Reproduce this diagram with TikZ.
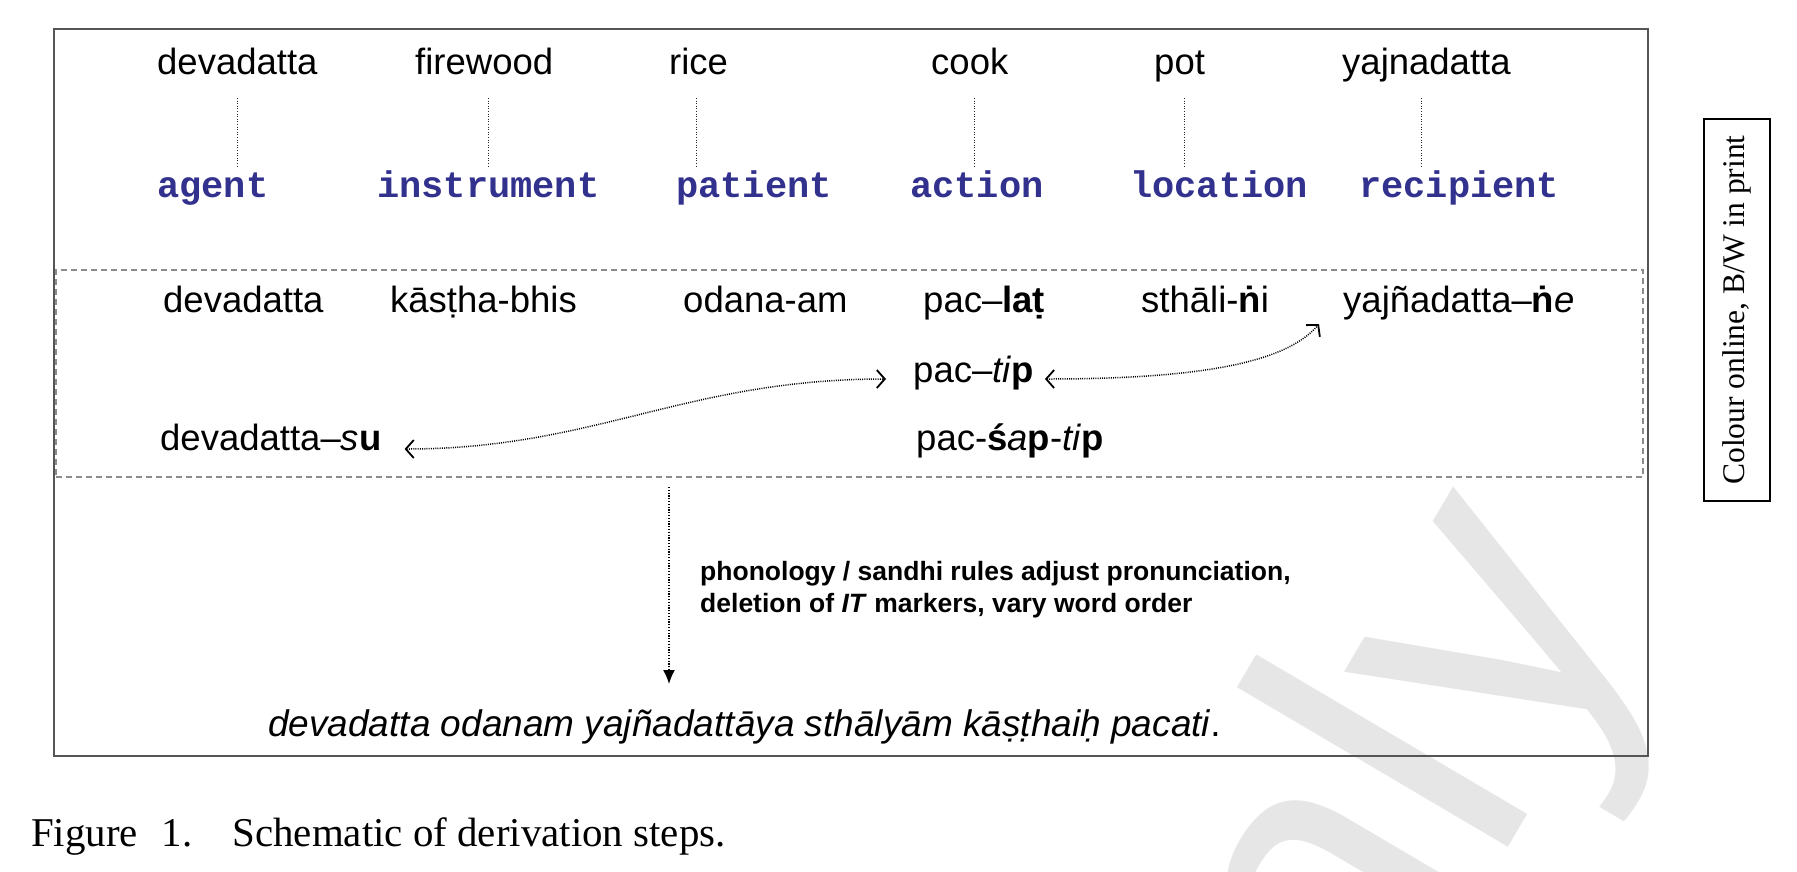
\documentclass[tikz,border=0pt]{standalone}
\usepackage{fontspec}
\setmainfont{Liberation Sans}
\newfontfamily\monof{Liberation Mono}
\newfontfamily\serf{Liberation Serif}
\usetikzlibrary{arrows.meta}
\definecolor{roleblue}{RGB}{50,50,142}
\definecolor{boxgray}{RGB}{85,85,85}
\definecolor{dashgray}{RGB}{140,140,140}
\definecolor{wmgray}{RGB}{230,230,230}
\begin{document}
\begin{tikzpicture}[x=1pt,y=-1pt,
  word/.style={inner sep=0pt, anchor=base west, font=\fontsize{36.5}{44}\selectfont},
  role/.style={inner sep=0pt, anchor=base west, text=roleblue, font=\monof\bfseries\fontsize{37}{44}\selectfont},
  rulestext/.style={inner sep=0pt, anchor=base west, font=\bfseries\fontsize{26.5}{32}\selectfont},
  vdot/.style={draw=black!85, line width=1.1pt, dash pattern=on 1pt off 1.6pt},
  darr/.style={draw=black, line width=1.5pt, dash pattern=on 1pt off 1.2pt,
     {Straight Barb[length=8pt,width=18pt,line width=1.8pt]}-{Straight Barb[length=8pt,width=18pt,line width=1.8pt]}},
  varr/.style={draw=black, line width=1.4pt, dash pattern=on 1.2pt off 1.6pt, -{Latex[length=14pt,width=12pt]}}
]
\useasboundingbox (0,0) rectangle (1797,871);
\clip (0,0) rectangle (1797,871);
\fill[white] (0,0) rectangle (1797,871);
% watermark
\node[anchor=base west, rotate=59.5, text=wmgray, inner sep=0pt,
      font=\fontsize{434}{434}\selectfont] (wm) at (1248,1288) {only};
% boxes
\node[draw=boxgray, line width=2.2pt, minimum width=1594pt, minimum height=727pt, inner sep=0pt] (outer) at (851,392.5) {};
\node[draw=dashgray, line width=1.4pt, dash pattern=on 6pt off 4pt, minimum width=1587pt, minimum height=207pt, inner sep=0pt] (mid) at (849.5,373.5) {};
% top words
\node[word] (w1) at (157,74) {devadatta};
\node[word] (w2) at (415,74) {firewood};
\node[word] (w3) at (669,74) {rice};
\node[word] (w4) at (931,74) {cook};
\node[word] (w5) at (1154,74) {pot};
\node[word] (w6) at (1342,74) {yajnadatta};
% roles
\node[role] (r1) at (157,197) {agent};
\node[role] (r2) at (377,197) {instrument};
\node[role] (r3) at (676,197) {patient};
\node[role] (r4) at (910,197) {action};
\node[role] (r5) at (1130,197) {location};
\node[role] (r6) at (1359,197) {recipient};
% dotted links
\draw[vdot] ([yshift=-24pt]w1.base) -- ([yshift=-94pt]w1.base);
\draw[vdot] ([xshift=4pt,yshift=-24pt]w2.base) -- ([xshift=4pt,yshift=-94pt]w2.base);
\draw[vdot] ([xshift=-2pt,yshift=-24pt]w3.base) -- ([xshift=-2pt,yshift=-94pt]w3.base);
\draw[vdot] ([xshift=5pt,yshift=-24pt]w4.base) -- ([xshift=5pt,yshift=-94pt]w4.base);
\draw[vdot] ([xshift=5pt,yshift=-24pt]w5.base) -- ([xshift=5pt,yshift=-94pt]w5.base);
\draw[vdot] ([xshift=-5pt,yshift=-24pt]w6.base) -- ([xshift=-5pt,yshift=-94pt]w6.base);
% middle box contents
\node[word] (m1) at (163,312) {devadatta};
\node[word] (m2) at (390,312) {kāsṭha-bhis};
\node[word] (m3) at (683,312) {odana-am};
\node[word] (m4) at (923,312) {pac–\textbf{laṭ}};
\node[word] (m5) at (1141,312) {sthāli-\textbf{ṅ}i};
\node[word] (m6) at (1343,312) {yajñadatta–\textbf{ṅ}\textit{e}};
\node[word] (tip) at (913,382) {pac–\textit{ti}\textbf{p}};
\node[word] (su) at (160,450) {devadatta–\textit{s}\textbf{u}};
\node[word] (sap) at (916,450) {pac-\textbf{ś}\textit{a}\textbf{p}-\textit{ti}\textbf{p}};
% curved arrows
\draw[darr] ([xshift=23pt,yshift=1pt]su.base east) .. controls +(190,0) and +(-200,0) .. ([xshift=-27pt,yshift=3pt]tip.base west);
\draw[darr] ([xshift=11pt,yshift=3pt]tip.base east) .. controls +(170,0) and +(-30,35) .. ([xshift=-24pt,yshift=-12pt]m6.base west);
% vertical arrow
\coordinate (vs) at (669,487);
\coordinate (ve) at (669,684);
\draw[varr] (vs) -- (ve);
\node[rulestext] (t1) at (700,580) {phonology / sandhi rules adjust pronunciation,};
\node[rulestext] (t2) at (700,612) {deletion of \textit{IT} markers, vary word order};
% result
\node[word, font=\itshape\fontsize{37}{44}\selectfont] (res) at (268,736) {devadatta odanam yajñadattāya sthālyām kāṣṭhaiḥ pacati\upshape.};
% caption
\node[anchor=base west, inner sep=0pt, font=\serf\fontsize{40.9}{48}\selectfont] (cap) at (31,846) {Figure\hspace{24pt}1.\hspace{40pt}Schematic of derivation steps.};
% side label
\node[draw=black, line width=2.5pt, rotate=90, minimum width=382pt, minimum height=66pt, inner sep=0pt,
      font=\serf\fontsize{31.5}{36}\selectfont] (side) at (1737,310) {Colour online, B/W in print};
\end{tikzpicture}
\end{document}
